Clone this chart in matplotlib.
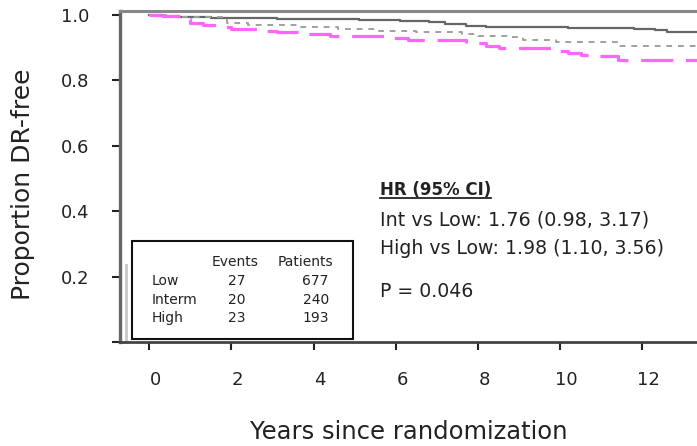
import matplotlib
matplotlib.use("Agg")
import matplotlib.pyplot as plt
import matplotlib.transforms as mtransforms
from matplotlib.lines import Line2D
from matplotlib.patches import Rectangle

# ---- data ----
low_t = [0, 0.3, 0.7, 1.5, 3.1, 5.1, 6.1, 6.8, 7.2, 7.7, 8.2, 10.2, 11.8, 12.3, 12.6, 13.4]
low_s = [1.0, 0.997, 0.994, 0.991, 0.988, 0.985, 0.981, 0.977, 0.972, 0.967, 0.963, 0.960, 0.957, 0.953, 0.947, 0.947]

int_t = [0, 0.4, 0.8, 1.9, 2.4, 3.7, 4.6, 5.6, 6.5, 7.6, 8.0, 8.7, 9.1, 9.9, 11.4, 13.4]
int_s = [1.0, 0.997, 0.994, 0.975, 0.969, 0.963, 0.957, 0.950, 0.947, 0.941, 0.935, 0.932, 0.922, 0.916, 0.904, 0.904]

high_t = [0, 0.3, 0.8, 1.0, 1.3, 1.7, 2.0, 2.7, 3.1, 3.7, 4.4, 5.8, 6.3, 7.7, 8.2, 8.5, 10.0, 10.2, 10.5, 10.9, 11.4, 13.4]
high_s = [1.0, 0.997, 0.988, 0.975, 0.969, 0.963, 0.957, 0.950, 0.947, 0.941, 0.935, 0.929, 0.922, 0.913, 0.904, 0.898, 0.891, 0.885, 0.878, 0.873, 0.862, 0.862]

groups = ["Low", "Interm", "High"]
events = [27, 20, 23]
patients = [677, 240, 193]

hr_title = "HR (95% CI)"
hr_lines = ["Int vs Low: 1.76 (0.98, 3.17)", "High vs Low: 1.98 (1.10, 3.56)"]
p_text = "P = 0.046"

xticks = [0, 2, 4, 6, 8, 10, 12]
yticks = [0.0, 0.2, 0.4, 0.6, 0.8, 1.0]
ytick_labels = ["", "0.2", "0.4", "0.6", "0.8", "1.0"]

# ---- figure ----
plt.rcParams['font.family'] = ['DejaVu Sans']
W, H = 697, 446
fig = plt.figure(figsize=(W / 100, H / 100), dpi=100)
ax_l, ax_b, ax_t = 120, 342, 11
ax = fig.add_axes([ax_l / W, 1 - ax_b / H, (W - ax_l) / W, (ax_b - ax_t) / H])

txt = "#222222"
ax.step(low_t, low_s, where="post", color="#666666", lw=1.6)
ax.step(int_t, int_s, where="post", color="#a0a0a0", lw=1.4, dashes=(3, 3))
ax.step(high_t, high_s, where="post", color="#ff66ff", lw=2.3, dashes=(10, 4))

ax.set_xlim(-0.71, 13.33)
ax.set_ylim(0.0, 1.012)
ax.set_xticks(xticks)
ax.set_yticks(yticks)
ax.set_yticklabels(ytick_labels)
ax.tick_params(axis="both", labelsize=13, colors=txt, width=1.5, length=6)
ax.tick_params(axis="x", pad=15)
ax.tick_params(axis="y", pad=16)
for t in ax.get_xticklines() + ax.get_yticklines():
    t.set_color("#444444")
shift = mtransforms.ScaledTranslation(4.5 / 72, 0, fig.dpi_scale_trans)
for lab in ax.get_xticklabels():
    lab.set_transform(lab.get_transform() + shift)

ax.spines["right"].set_visible(False)
ax.spines["top"].set_color("#888888")
ax.spines["top"].set_linewidth(2.2)
ax.spines["left"].set_color("#666666")
ax.spines["left"].set_linewidth(2.4)
ax.spines["bottom"].set_color("#444444")
ax.spines["bottom"].set_linewidth(2.0)

ax.set_ylabel("Proportion DR-free", fontsize=18, color=txt)
ax.yaxis.set_label_coords(-0.147, 0.477)
ax.set_xlabel("Years since randomization", fontsize=17.5, color=txt, labelpad=22)

# faint vertical artefact line next to the axis
ax.add_line(Line2D([0.0104, 0.0104], [0.0, 0.233], transform=ax.transAxes,
                   color="#c8c8c8", lw=2.0))

# legend-like table box
box = Rectangle((0.0208, 0.009), 0.383, 0.296, transform=ax.transAxes,
                fill=True, facecolor="white", edgecolor="#111111", lw=1.5, zorder=5)
ax.add_patch(box)
fs = 10
ax.text(0.199, 0.2417, "Events", transform=ax.transAxes, ha="center", va="center",
        fontsize=fs, color=txt, zorder=6)
ax.text(0.369, 0.2417, "Patients", transform=ax.transAxes, ha="right", va="center",
        fontsize=fs, color=txt, zorder=6)
row_y = [0.184, 0.127, 0.0725]
for g, e, p, yy in zip(groups, events, patients, row_y):
    ax.text(0.0555, yy, g, transform=ax.transAxes, ha="left", va="center",
            fontsize=fs, color=txt, zorder=6)
    ax.text(0.203, yy, str(e), transform=ax.transAxes, ha="center", va="center",
            fontsize=fs, color=txt, zorder=6)
    ax.text(0.362, yy, str(p), transform=ax.transAxes, ha="right", va="center",
            fontsize=fs, color=txt, zorder=6)

# HR annotation
hx = 5.62
t0 = ax.text(hx, 0.465, hr_title, ha="left", va="center", fontsize=12,
             fontweight="bold", color=txt)
ax.text(hx, 0.373, hr_lines[0], ha="left", va="center", fontsize=13.8, color=txt)
ax.text(hx, 0.287, hr_lines[1], ha="left", va="center", fontsize=13.6, color=txt)
ax.text(hx, 0.153, p_text, ha="left", va="center", fontsize=13.6, color=txt)

fig.canvas.draw()
bb = t0.get_window_extent().transformed(fig.transFigure.inverted())
fig.add_artist(Line2D([bb.x0, bb.x1], [bb.y0 + 0.003, bb.y0 + 0.003],
                      transform=fig.transFigure, color=txt, lw=1.3))

fig.savefig("out.png", dpi=100)
